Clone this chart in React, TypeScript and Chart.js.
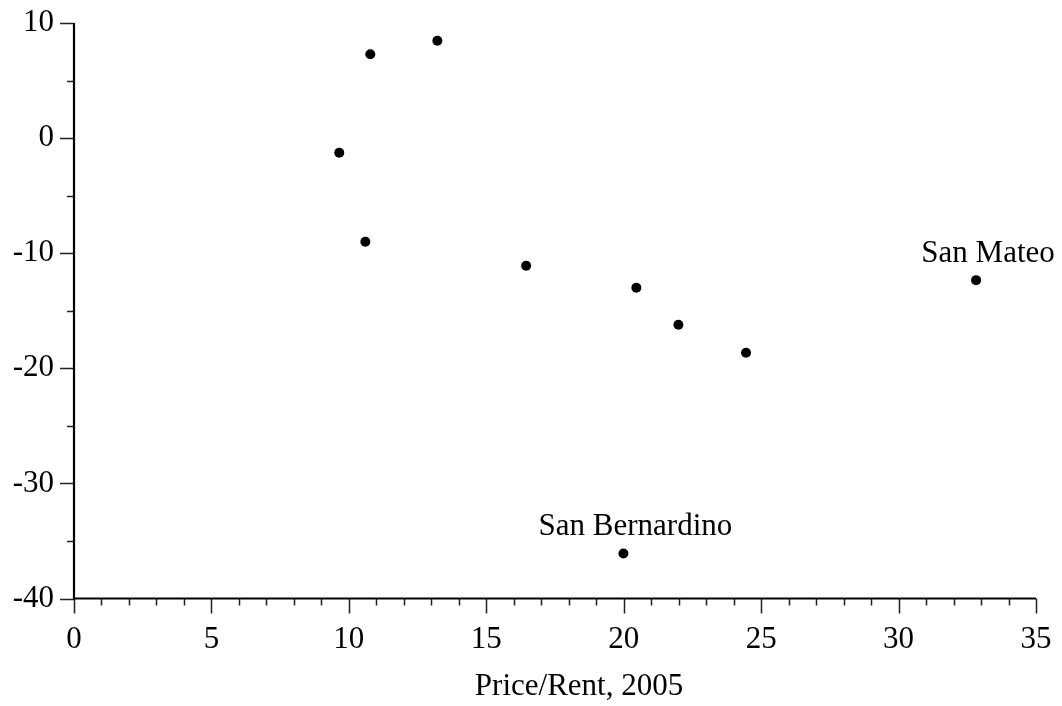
import React, { useEffect, useRef } from "react";
import { Chart, registerables } from "chart.js";

Chart.register(...registerables);

// ---- data ----
const priceRent: number[] = [13.22, 10.78, 9.65, 10.6, 16.45, 20.46, 21.99, 24.45, 19.99, 32.82];
const priceChange: number[] = [8.46, 7.28, -1.27, -9.01, -11.09, -13.0, -16.22, -18.65, -36.09, -12.34];
const pointLabels: string[] = ["", "", "", "", "", "", "", "", "San Bernardino", "San Mateo"];
const xRange: number[] = [0, 35];
const yRange: number[] = [-40, 10];
const xMajorStep = 5;
const xMinorStep = 1;
const yMajorStep = 10;
const yMinorStep = 5;
const xTitle = "Price/Rent, 2005";

const FONT_FAMILY = "'Liberation Serif', 'Times New Roman', serif";
const FONT_SIZE = 31;

const axesPlugin = {
  id: "mapleAxes",
  afterDraw(chart: any) {
    const { ctx, scales } = chart;
    const xs = scales.x;
    const ys = scales.y;
    const left = xs.getPixelForValue(xRange[0]);
    const right = xs.getPixelForValue(xRange[1]);
    const top = ys.getPixelForValue(yRange[1]);
    const bottom = ys.getPixelForValue(yRange[0]);
    ctx.save();
    // ticks
    ctx.strokeStyle = "#222";
    ctx.lineWidth = 1.5;
    ctx.beginPath();
    for (let v = xRange[0]; v <= xRange[1] + 1e-9; v += xMinorStep) {
      const major = Math.abs(v / xMajorStep - Math.round(v / xMajorStep)) < 1e-9;
      const px = Math.round(xs.getPixelForValue(v)) + 0.5;
      ctx.moveTo(px, bottom);
      ctx.lineTo(px, bottom + (major ? 15 : 7));
    }
    for (let v = yRange[0]; v <= yRange[1] + 1e-9; v += yMinorStep) {
      const major = Math.abs(v / yMajorStep - Math.round(v / yMajorStep)) < 1e-9;
      const py = Math.round(ys.getPixelForValue(v)) + 0.5;
      ctx.moveTo(left, py);
      ctx.lineTo(left - (major ? 14 : 7), py);
    }
    ctx.stroke();
    // axis lines
    ctx.strokeStyle = "#000";
    ctx.lineWidth = 2.2;
    ctx.beginPath();
    ctx.moveTo(left, top);
    ctx.lineTo(left, bottom);
    ctx.lineTo(right, bottom);
    ctx.stroke();
    // axis title
    ctx.fillStyle = "#000";
    ctx.font = `${FONT_SIZE}px ${FONT_FAMILY}`;
    ctx.textAlign = "center";
    ctx.textBaseline = "alphabetic";
    ctx.fillText(xTitle, (left + right) / 2 + 24, bottom + 96.5);
    // point labels
    const meta = chart.getDatasetMeta(0);
    meta.data.forEach((pt: any, i: number) => {
      const label = pointLabels[i];
      if (!label) return;
      ctx.fillText(label, pt.x + 12, pt.y - 18);
    });
    ctx.restore();
  },
};

const zeroPadding = (s: any) => {
  s.paddingTop = 0;
  s.paddingBottom = 0;
  s.paddingLeft = 0;
  s.paddingRight = 0;
};

function ScatterChart() {
  const canvasRef = useRef<HTMLCanvasElement | null>(null);

  useEffect(() => {
    if (!canvasRef.current) return;
    const font = { family: FONT_FAMILY, size: FONT_SIZE };
    const chart = new Chart(canvasRef.current, {
      type: "scatter",
      data: {
        datasets: [
          {
            data: priceRent.map((x, i) => ({ x, y: priceChange[i] })),
            backgroundColor: "#000",
            borderColor: "#000",
            borderWidth: 0,
            pointRadius: 5,
            pointHoverRadius: 5,
          },
        ],
      },
      options: {
        animation: false,
        responsive: false,
        maintainAspectRatio: false,
        layout: { padding: { top: 23, right: 26, left: 0, bottom: 0 } },
        plugins: {
          legend: { display: false },
          tooltip: { enabled: false },
          title: { display: false },
        },
        scales: {
          x: {
            type: "linear",
            position: "bottom",
            min: xRange[0],
            max: xRange[1],
            grid: { display: false, drawTicks: false },
            border: { display: false },
            ticks: { stepSize: xMajorStep, padding: 23, color: "#000", font, maxRotation: 0 },
            afterFit: (s: any) => {
              s.height = 107.5;
              zeroPadding(s);
            },
          },
          y: {
            type: "linear",
            min: yRange[0],
            max: yRange[1],
            grid: { display: false, drawTicks: false },
            border: { display: false },
            ticks: { stepSize: yMajorStep, padding: 20, color: "#000", font },
            afterFit: (s: any) => {
              s.width = 74;
              zeroPadding(s);
            },
          },
        },
      },
      plugins: [axesPlugin],
    });
    return () => chart.destroy();
  }, []);

  return (
    <div style={{ position: "fixed", left: 0, top: 0, width: 1062, height: 706, background: "#fff" }}>
      <canvas ref={canvasRef} width={1062} height={706} style={{ display: "block" }} />
    </div>
  );
}

export default function App() {
  return <ScatterChart />;
}
